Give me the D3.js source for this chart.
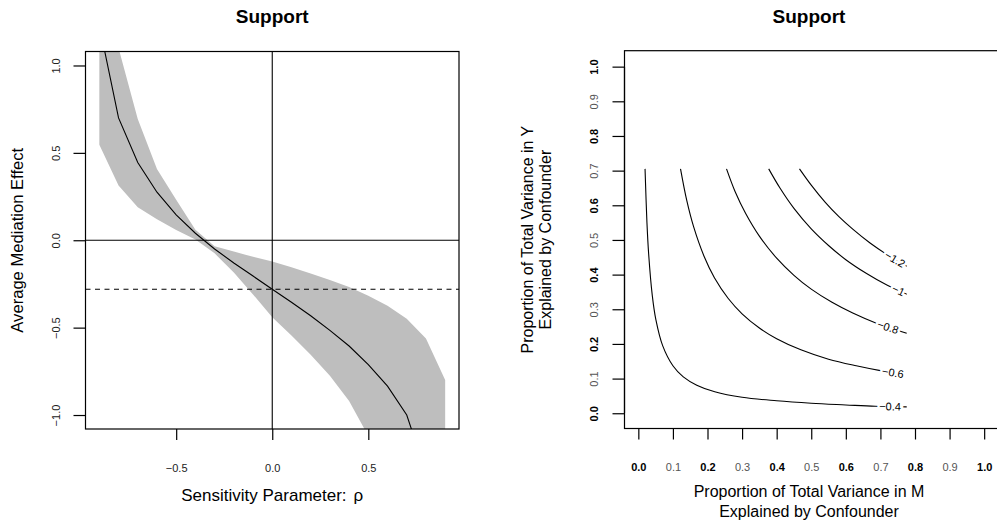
<!DOCTYPE html>
<html>
<head>
<meta charset="utf-8">
<script src="https://cdn.jsdelivr.net/npm/d3@7"></script>
<style>
  html, body { margin: 0; padding: 0; background: #fff; }
  svg { display: block; font-family: "Liberation Sans", Arial, Helvetica, sans-serif; }
</style>
</head>
<body>
<svg id="chart" width="997" height="525"></svg>
<script>
// ---------------- DATA ----------------
// Left panel: sensitivity analysis over rho
const rho = [-0.9, -0.8, -0.7, -0.6, -0.5, -0.4, -0.3, -0.2, -0.1, 0.0,
              0.1, 0.2, 0.3, 0.4, 0.5, 0.6, 0.7, 0.8, 0.9];
const acmeMean = [1.23, 0.70, 0.445, 0.275, 0.145, 0.04, -0.05, -0.13, -0.205, -0.28,
                  -0.355, -0.432, -0.516, -0.605, -0.712, -0.835, -1.0, -1.33, -2.0];
const acmeUpper = [1.9, 1.1, 0.694, 0.408, 0.232, 0.06, -0.035, -0.065, -0.095, -0.122,
                   -0.155, -0.19, -0.228, -0.268, -0.318, -0.375, -0.449, -0.562, -0.80];
const acmeLower = [0.547, 0.313, 0.189, 0.12, 0.058, 0.005, -0.075, -0.185, -0.31, -0.44,
                   -0.545, -0.655, -0.775, -0.92, -1.12, -1.4, -1.8, -2.4, -3.2];
const acmeAtZero = -0.28;
const leftXTicks = [-0.5, 0.0, 0.5];
const leftYTicks = [-1.0, -0.5, 0.0, 0.5, 1.0];

// Right panel: contours of ACME over (R2M, R2Y)
const contourLevels = ["-0.4", "-0.6", "-0.8", "-1", "-1.2"];
const contour04 = [[0.0194,0.705],[0.0249,0.55],[0.0298,0.46],[0.0403,0.34],[0.0507,0.27],[0.0703,0.195],
                   [0.10,0.137],[0.13,0.105],[0.169,0.081],[0.221,0.062],[0.30,0.046],[0.40,0.036],
                   [0.50,0.029],[0.60,0.024],[0.685,0.020],[0.776,0.0185]];
const contour06 = [[0.122,0.705],[0.14,0.614],[0.16,0.5375],[0.19,0.453],[0.22,0.391],[0.26,0.331],
                   [0.30,0.287],[0.35,0.246],[0.40,0.215],[0.47,0.183],[0.55,0.156],[0.63,0.137],
                   [0.70,0.123],[0.77,0.112]];
const contour08 = [[0.255,0.705],[0.28,0.639],[0.31,0.577],[0.35,0.511],[0.40,0.4475],[0.45,0.398],
                   [0.50,0.358],[0.56,0.320],[0.62,0.289],[0.69,0.259],[0.776,0.231]];
const contour10 = [[0.377,0.705],[0.41,0.649],[0.45,0.591],[0.50,0.532],[0.55,0.484],[0.60,0.443],
                   [0.66,0.403],[0.72,0.369],[0.776,0.343]];
const contour12 = [[0.466,0.705],[0.50,0.658],[0.54,0.609],[0.58,0.567],[0.62,0.531],[0.67,0.491],
                   [0.72,0.457],[0.776,0.424]];
const rightTicks = [0.0, 0.1, 0.2, 0.3, 0.4, 0.5, 0.6, 0.7, 0.8, 0.9, 1.0];

// ---------------- LAYOUT ----------------
const svg = d3.select("#chart");
const minus = s => s.replace("-", "\u2212");

// ===== LEFT PANEL =====
const L = { left: 85.5, right: 459, top: 51.5, bottom: 429 };
const xL = d3.scaleLinear().domain([-0.972, 0.972]).range([L.left, L.right]);
const yL = d3.scaleLinear().domain([-1.08, 1.08]).range([L.bottom, L.top]);

svg.append("clipPath").attr("id", "clipL").append("rect")
  .attr("x", L.left).attr("y", L.top).attr("width", L.right - L.left).attr("height", L.bottom - L.top);

const gL = svg.append("g");
const plotL = gL.append("g").attr("clip-path", "url(#clipL)");

const bandData = rho.map((r, i) => ({ r, lo: acmeLower[i], hi: acmeUpper[i] }));
plotL.append("path")
  .datum(bandData)
  .attr("fill", "#bebebe")
  .attr("stroke", "none")
  .attr("d", d3.area().x(d => xL(d.r)).y0(d => yL(d.lo)).y1(d => yL(d.hi)));

plotL.append("path")
  .datum(rho.map((r, i) => [r, acmeMean[i]]))
  .attr("fill", "none").attr("stroke", "#000").attr("stroke-width", 1.1)
  .attr("d", d3.line().x(d => xL(d[0])).y(d => yL(d[1])));

// reference lines
plotL.append("line").attr("x1", L.left).attr("x2", L.right)
  .attr("y1", yL(0)).attr("y2", yL(0)).attr("stroke", "#000").attr("stroke-width", 1.1);
plotL.append("line").attr("x1", xL(0)).attr("x2", xL(0))
  .attr("y1", L.top).attr("y2", L.bottom).attr("stroke", "#000").attr("stroke-width", 1.1);
plotL.append("line").attr("x1", L.left).attr("x2", L.right)
  .attr("y1", yL(acmeAtZero)).attr("y2", yL(acmeAtZero))
  .attr("stroke", "#000").attr("stroke-width", 1.1).attr("stroke-dasharray", "5,4.5");

// box
gL.append("rect").attr("x", L.left).attr("y", L.top)
  .attr("width", L.right - L.left).attr("height", L.bottom - L.top)
  .attr("fill", "none").attr("stroke", "#000").attr("stroke-width", 1.2);

// x axis
const axXL = gL.append("g").attr("transform", `translate(0,${L.bottom})`)
  .call(d3.axisBottom(xL).tickValues(leftXTicks).tickSize(11).tickPadding(0).tickFormat(d => minus(d3.format(".1f")(d))));
axXL.select(".domain").remove();
axXL.selectAll(".tick line").attr("stroke", "#000").attr("stroke-width", 1.2);
axXL.selectAll(".tick text").attr("y", 42.5).attr("dy", null)
  .attr("font-size", 11).attr("fill", "#222").attr("font-family", "Liberation Sans, Arial, sans-serif");

// y axis
const axYL = gL.append("g").attr("transform", `translate(${L.left},0)`)
  .call(d3.axisLeft(yL).tickValues(leftYTicks).tickSize(12).tickFormat(d => minus(d3.format(".1f")(d))));
axYL.select(".domain").remove();
axYL.selectAll(".tick line").attr("stroke", "#000").attr("stroke-width", 1.2);
axYL.selectAll(".tick text")
  .attr("x", null).attr("dy", null)
  .attr("transform", "translate(-25.5,0) rotate(-90)")
  .attr("text-anchor", "middle")
  .attr("font-size", 11).attr("fill", "#222").attr("font-family", "Liberation Sans, Arial, sans-serif");

// titles
svg.append("text").attr("x", (L.left + L.right) / 2).attr("y", 23)
  .attr("text-anchor", "middle").attr("font-weight", "bold").attr("font-size", 19).text("Support");
const xt = svg.append("text").attr("x", (L.left + L.right) / 2).attr("y", 500.5)
  .attr("text-anchor", "middle").attr("font-size", 17);
xt.append("tspan").text("Sensitivity Parameter:");
xt.append("tspan").attr("dx", 7).text("\u03C1");
svg.append("text").attr("transform", `translate(23,${(L.top + L.bottom) / 2}) rotate(-90)`)
  .attr("text-anchor", "middle").attr("font-size", 16.6).text("Average Mediation Effect");

// ===== RIGHT PANEL =====
const R = { left: 624.5, right: 998, top: 50.7, bottom: 428.5 };
const xR = d3.scaleLinear().domain([-0.04, 1.04]).range([R.left, R.right]);
const yR = d3.scaleLinear().domain([-0.044, 1.046]).range([R.bottom, R.top]);

const gR = svg.append("g");
gR.append("rect").attr("x", R.left).attr("y", R.top)
  .attr("width", R.right - R.left).attr("height", R.bottom - R.top)
  .attr("fill", "none").attr("stroke", "#000").attr("stroke-width", 1.2);

const contours = [contour04, contour06, contour08, contour10, contour12];
const labelX = [0.728, 0.736, 0.722, 0.752, 0.742];
const cline = d3.line().x(d => xR(d[0])).y(d => yR(d[1])).curve(d3.curveCatmullRom.alpha(0.5));

contours.forEach((pts, i) => {
  gR.append("path").datum(pts)
    .attr("fill", "none").attr("stroke", "#000").attr("stroke-width", 1.1)
    .attr("d", cline);
});
contours.forEach((pts, i) => {
  const lx = labelX[i];
  let k = 0;
  while (k < pts.length - 2 && pts[k + 1][0] < lx) k++;
  const a = pts[k], b = pts[k + 1];
  const t = (lx - a[0]) / (b[0] - a[0]);
  const ly = a[1] + t * (b[1] - a[1]);
  const ang = Math.atan2(yR(b[1]) - yR(a[1]), xR(b[0]) - xR(a[0])) * 180 / Math.PI;
  gR.append("text")
    .attr("transform", `translate(${xR(lx)},${yR(ly)}) rotate(${ang})`)
    .attr("text-anchor", "middle").attr("dy", "0.35em")
    .attr("font-size", 11)
    .attr("stroke", "#fff").attr("stroke-width", 5).attr("paint-order", "stroke")
    .attr("fill", "#000")
    .text(minus(contourLevels[i]));
});

// axes
const axXR = gR.append("g").attr("transform", `translate(0,${R.bottom})`)
  .call(d3.axisBottom(xR).tickValues(rightTicks).tickSize(11).tickFormat(d3.format(".1f")));
axXR.select(".domain").attr("d", `M${xR(0)},0H${xR(1)}`).attr("stroke", "#000").attr("stroke-width", 1.2);
axXR.selectAll(".tick line").attr("stroke", "#000").attr("stroke-width", 1.2);
axXR.selectAll(".tick text").attr("y", 42.5).attr("dy", null)
  .attr("font-size", 11).attr("font-family", "Liberation Sans, Arial, sans-serif");

const axYR = gR.append("g").attr("transform", `translate(${R.left},0)`)
  .call(d3.axisLeft(yR).tickValues(rightTicks).tickSize(12).tickFormat(d3.format(".1f")));
axYR.select(".domain").attr("d", `M0,${yR(0)}V${yR(1)}`).attr("stroke", "#000").attr("stroke-width", 1.2);
axYR.selectAll(".tick line").attr("stroke", "#000").attr("stroke-width", 1.2);
axYR.selectAll(".tick text")
  .attr("x", null).attr("dy", null)
  .attr("transform", "translate(-26.5,0) rotate(-90)")
  .attr("text-anchor", "middle")
  .attr("font-size", 11).attr("font-family", "Liberation Sans, Arial, sans-serif");

[axXR, axYR].forEach(ax => {
  ax.selectAll(".tick text").each(function(d) {
    const even = Math.round(d * 10) % 2 === 0;
    d3.select(this).attr("font-weight", even ? "bold" : "normal").attr("fill", even ? "#000" : "#555");
  });
});

const cxR = 809;
svg.append("text").attr("x", cxR).attr("y", 23)
  .attr("text-anchor", "middle").attr("font-weight", "bold").attr("font-size", 19).text("Support");
svg.append("text").attr("x", cxR).attr("y", 497)
  .attr("text-anchor", "middle").attr("font-size", 16).text("Proportion of Total Variance in M");
svg.append("text").attr("x", cxR).attr("y", 517)
  .attr("text-anchor", "middle").attr("font-size", 16).text("Explained by Confounder");
const cyR = (R.top + R.bottom) / 2;
svg.append("text").attr("transform", `translate(533,${cyR}) rotate(-90)`)
  .attr("text-anchor", "middle").attr("font-size", 16).text("Proportion of Total Variance in Y");
svg.append("text").attr("transform", `translate(551,${cyR}) rotate(-90)`)
  .attr("text-anchor", "middle").attr("font-size", 16).text("Explained by Confounder");
</script>
</body>
</html>
